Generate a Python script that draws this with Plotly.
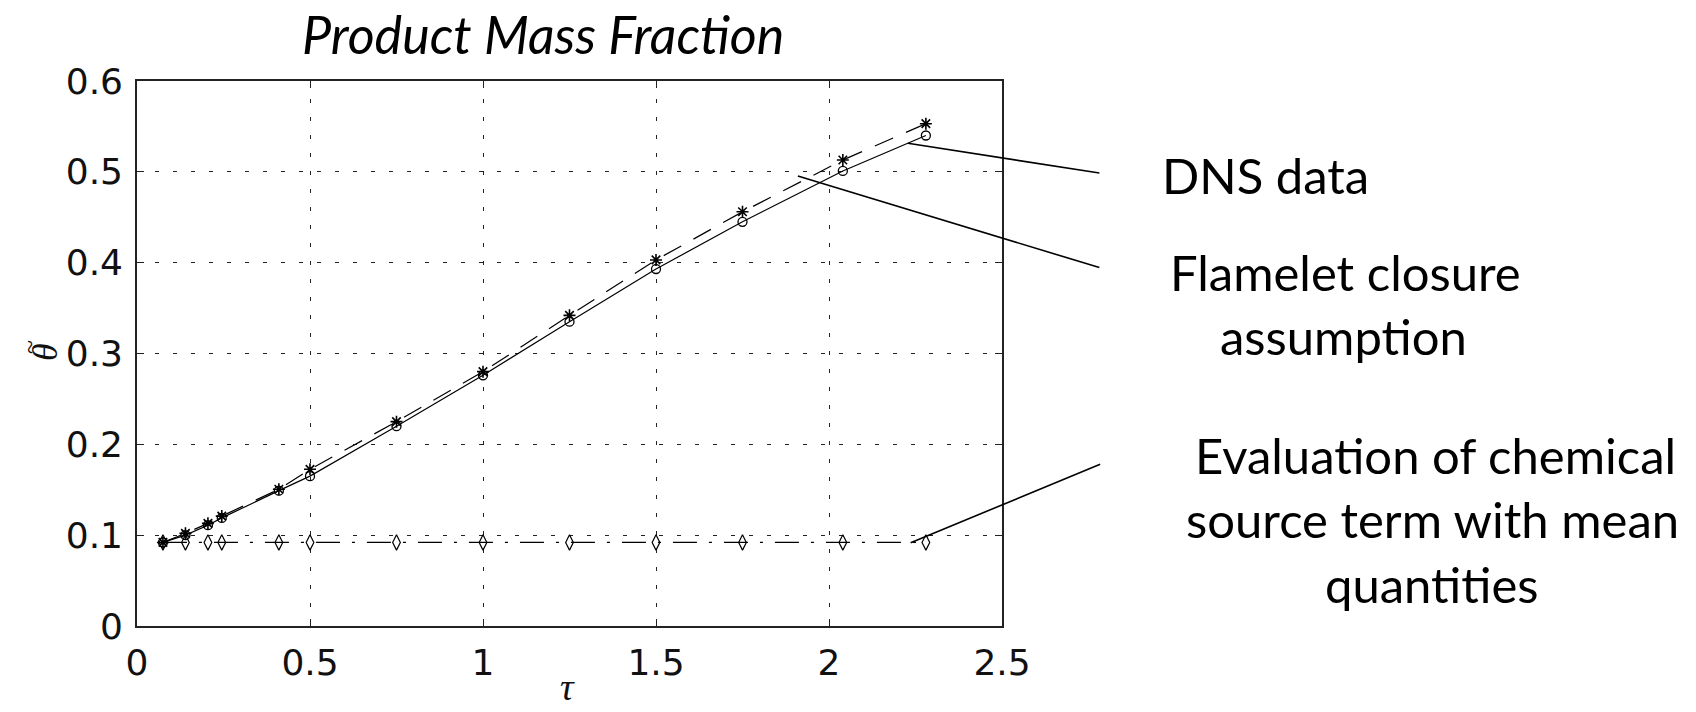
import plotly.graph_objects as go

# ---- data ----
tau = [0.075, 0.14, 0.205, 0.245, 0.41, 0.5, 0.75, 1.0, 1.25, 1.5, 1.75, 2.04, 2.28]
dns = [0.092, 0.100, 0.111, 0.119, 0.149, 0.165, 0.220, 0.276, 0.335, 0.393, 0.445, 0.501, 0.540]
flamelet = [0.092, 0.102, 0.113, 0.121, 0.1505, 0.1725, 0.225, 0.280, 0.342, 0.403, 0.456, 0.513, 0.553]
mean_eval = [0.092, 0.092, 0.092, 0.092, 0.092, 0.092, 0.092, 0.092, 0.092, 0.092, 0.092, 0.092, 0.092]

x_ticks = [0, 0.5, 1, 1.5, 2, 2.5]
x_ticklabels = ["0", "0.5", "1", "1.5", "2", "2.5"]
y_ticks = [0, 0.1, 0.2, 0.3, 0.4, 0.5, 0.6]
y_ticklabels = ["0", "0.1", "0.2", "0.3", "0.4", "0.5", "0.6"]

W, H = 1696, 712
ML, MR, MT, MB = 137, 694, 81, 86
PW, PH = W - ML - MR, H - MT - MB

def px(xp):
    return (xp - ML) / PW

def py(yp):
    return (H - MB - yp) / PH

fig = go.Figure()

fig.add_trace(go.Scatter(
    x=tau, y=dns, mode="lines+markers", name="DNS data",
    line=dict(color="black", width=1.2),
    marker=dict(symbol="circle-open", size=9, color="black", line=dict(width=1.3)),
))
fig.add_trace(go.Scatter(
    x=tau, y=flamelet, mode="lines+markers", name="Flamelet closure",
    line=dict(color="black", width=1.2, dash="20px,14px"),
    marker=dict(symbol="asterisk-open", size=10, color="black", line=dict(width=1.6)),
))
fig.add_trace(go.Scatter(
    x=tau, y=mean_eval, mode="lines+markers", name="Mean quantities",
    line=dict(color="black", width=1.2, dash="24px,12px,3px,12px"),
    marker=dict(symbol="diamond-tall-open", size=11, color="black", line=dict(width=1.2)),
))

tick_font = dict(family="DejaVu Sans, Liberation Sans, sans-serif", size=36, color="#111")

fig.update_xaxes(
    range=[0, 2.5], tickvals=x_ticks, ticktext=x_ticklabels,
    showline=True, linecolor="#222", linewidth=1.6, mirror="ticks",
    ticks="inside", ticklen=7, tickwidth=1.4, tickcolor="#222",
    showgrid=True, gridcolor="#222", gridwidth=1.4, griddash="4px,14px",
    zeroline=False, tickfont=tick_font, ticklabelstandoff=4,
)
fig.update_yaxes(
    range=[0, 0.6], tickvals=y_ticks, ticktext=y_ticklabels,
    showline=True, linecolor="#222", linewidth=1.6, mirror="ticks",
    ticks="inside", ticklen=7, tickwidth=1.4, tickcolor="#222",
    showgrid=True, gridcolor="#222", gridwidth=1.4, griddash="4px,14px",
    zeroline=False, tickfont=tick_font, ticklabelstandoff=5,
)

annots = []
serif_it = dict(family="Liberation Serif, DejaVu Serif, serif", style="italic", color="#111")
# axis labels
annots.append(dict(text="τ", xref="paper", yref="paper", x=px(567), y=py(710),
                   xanchor="center", yanchor="bottom", showarrow=False,
                   font=dict(size=38, **serif_it)))
annots.append(dict(text="θ", xref="paper", yref="paper", x=px(45), y=py(352),
                   xanchor="center", yanchor="middle", showarrow=False, textangle=-90,
                   font=dict(size=36, **serif_it)))
annots.append(dict(text="~", xref="paper", yref="paper", x=px(29), y=py(347),
                   xanchor="center", yanchor="middle", showarrow=False, textangle=-90,
                   font=dict(size=26, family="Liberation Serif, DejaVu Serif, serif", color="#111")))

# title
annots.append(dict(
    text="Product Mass Fraction", xref="paper", yref="paper",
    x=px(543), y=py(1), xanchor="center", yanchor="top", showarrow=False,
    font=dict(family="Lato, Open Sans, sans-serif", size=52, style="italic", color="black"),
))

label_font = dict(family="Lato, Open Sans, sans-serif", size=49, color="black")
labels = [
    ("DNS data", 1160, 175, "left"),
    ("Flamelet closure", 1345, 272, "center"),
    ("assumption", 1343, 336, "center"),
    ("Evaluation of chemical", 1435, 455, "center"),
    ("source term with mean", 1432, 519, "center"),
    ("quantities", 1432, 584, "center"),
]
for txt, xp, yp, anc in labels:
    annots.append(dict(text=txt, xref="paper", yref="paper", x=px(xp), y=py(yp),
                       xanchor=anc, yanchor="middle", showarrow=False, font=label_font))

# pointer lines: start on the curves (data coords), end left of the labels (pixel offsets)
pointers = [
    (2.228, 0.5314, 193, 30),
    (1.910, 0.4954, 303, 92),
    (2.236, 0.0917, 191, -79),
]
for (xd, yd, ax, ay) in pointers:
    annots.append(dict(
        x=xd, y=yd, xref="x", yref="y", text="", showarrow=True,
        ax=ax, ay=ay, axref="pixel", ayref="pixel",
        arrowhead=0, arrowwidth=1.6, arrowcolor="black", standoff=0, startstandoff=0,
        font=dict(size=1),
    ))

fig.update_layout(
    width=W, height=H,
    margin=dict(l=ML, r=MR, t=MT, b=MB),
    paper_bgcolor="white", plot_bgcolor="white",
    showlegend=False,
    annotations=annots,
)

fig.write_html("out.html")
